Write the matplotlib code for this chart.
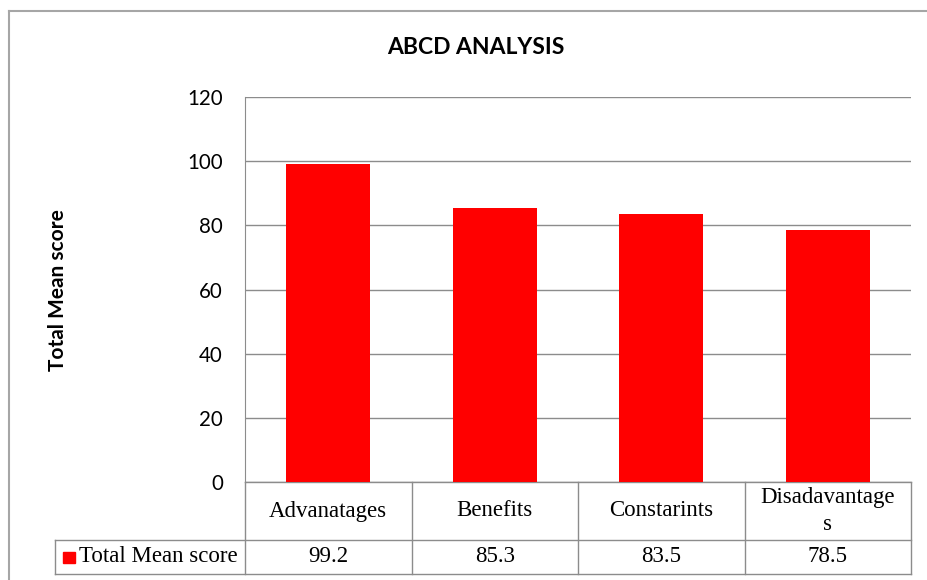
import matplotlib
matplotlib.use("Agg")
import matplotlib.pyplot as plt
from matplotlib.lines import Line2D
from matplotlib.patches import Rectangle

# ABCD analysis - bar chart with data table

categories = ["Advanatages", "Benefits", "Constarints", "Disadavantage\ns"]
scores = [99.2, 85.3, 83.5, 78.5]
score_labels = ["99.2", "85.3", "83.5", "78.5"]
series_name = "Total Mean score"
yticks = [0, 20, 40, 60, 80, 100, 120]

W, H = 928, 580
grey = "#8c8c8c"
border = "#a6a6a6"
red = "#ff0000"

fig = plt.figure(figsize=(W / 100, H / 100), dpi=100)
ax = fig.add_axes([245 / W, 1 - 482 / H, 666 / W, 385 / H])

x = list(range(len(categories)))
ax.bar(x, scores, width=0.505, color=red, zorder=3)
ax.set_xlim(-0.5, len(categories) - 0.5)
ax.set_ylim(0, 120)
ax.set_yticks(yticks)
ax.set_yticklabels([str(t) for t in yticks], fontfamily="Lato", fontsize=14.8)
ax.tick_params(axis="y", length=0, pad=16)
ax.set_xticks([])
ax.grid(axis="y", color=grey, linewidth=1, zorder=0)
for s in ["top", "right", "bottom"]:
    ax.spines[s].set_visible(False)
ax.spines["left"].set_color(grey)

# data table under the plot (x in data units, y in axes units)
tr = ax.get_xaxis_transform()
r0, r1, r2 = 0.0, (482 - 540) / 385, (482 - 574) / 385
left = -0.5
right = len(categories) - 0.5
head_left = -0.5 - (245 - 55) / 166.5

def hline(x0, x1, y):
    ax.add_line(Line2D([x0, x1], [y, y], transform=tr, color=grey, lw=1, clip_on=False))

def vline(xx, y0, y1):
    ax.add_line(Line2D([xx, xx], [y0, y1], transform=tr, color=grey, lw=1, clip_on=False))

hline(left, right, r0)
hline(head_left, right, r1)
hline(head_left, right, r2)
vline(head_left, r1, r2)
for i in range(len(categories) + 1):
    vline(i - 0.5, r0, r2)

for i, (c, v) in enumerate(zip(categories, score_labels)):
    ax.text(i, (r0 + r1) / 2, c, transform=tr, ha="center", va="center",
            fontfamily="Liberation Serif", fontsize=16.5, linespacing=1.35)
    ax.text(i, (r1 + r2) / 2, v, transform=tr, ha="center", va="center",
            fontfamily="Liberation Serif", fontsize=16.5)

sq_x0 = -0.5 - (245 - 63) / 166.5
sq_w = 12 / 166.5
sq_y0 = (482 - 563) / 385
sq_h = 11 / 385
ax.add_patch(Rectangle((sq_x0, sq_y0), sq_w, sq_h, transform=tr, color=red, clip_on=False))
ax.text(-0.5 - (245 - 79) / 166.5, (r1 + r2) / 2, series_name, transform=tr,
        ha="left", va="center", fontfamily="Liberation Serif", fontsize=16.5)

# titles
fig.text(476 / W, 1 - 47 / H, "ABCD ANALYSIS", ha="center", va="center",
         fontfamily="Lato", fontweight="bold", fontsize=16.5)
fig.text(58 / W, 1 - 290 / H, "Total Mean score", ha="center", va="center",
         rotation=90, fontfamily="Lato", fontweight="bold", fontsize=15)

# chart area border (top and left visible)
fig.add_artist(Line2D([9.5 / W, 1], [1 - 10.5 / H, 1 - 10.5 / H], color=border, lw=1.5))
fig.add_artist(Line2D([9.5 / W, 9.5 / W], [1 - 10.5 / H, 0], color=border, lw=1.5))

fig.savefig("out.png", dpi=100)
